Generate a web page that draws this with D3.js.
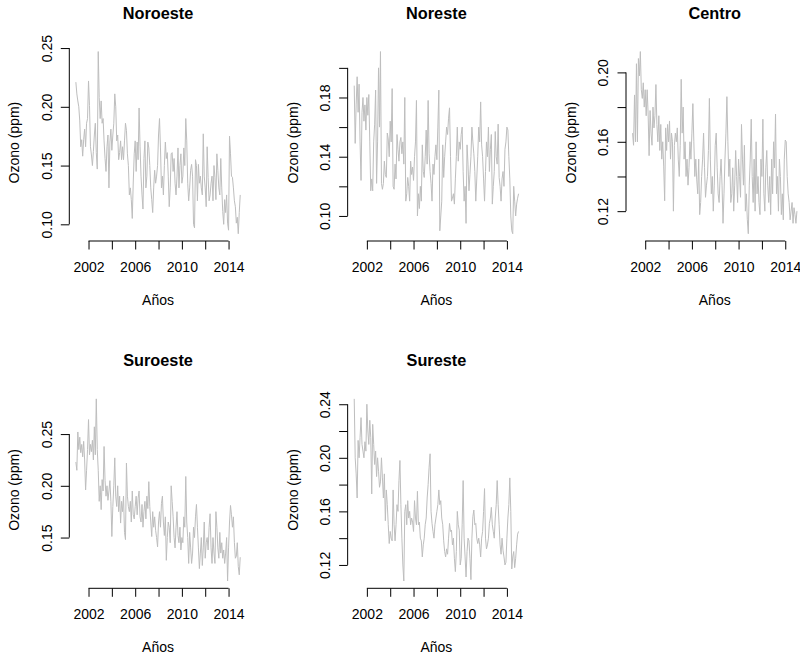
<!DOCTYPE html>
<html>
<head>
<meta charset="utf-8">
<script src="https://cdn.jsdelivr.net/npm/d3@7"></script>
<style>
  body { margin: 0; background: #ffffff; }
  svg text { font-family: "Liberation Sans", Arial, Helvetica, sans-serif; fill: #000; }
</style>
</head>
<body>
<svg id="chart" width="800" height="658"></svg>
<script>
// Monthly maximum ozone (ppm) by zone, December 2000 onwards
const regions = ["Noroeste", "Noreste", "Centro", "Suroeste", "Sureste"];
const startYear = 2000;
const startMonth = 12;

const noroeste = [
  0.221, 0.211, 0.205, 0.200, 0.188, 0.166, 0.172, 0.158, 0.172, 0.181,
  0.166, 0.186, 0.190, 0.222, 0.201, 0.166, 0.159, 0.150, 0.162, 0.176,
  0.186, 0.161, 0.147, 0.247, 0.208, 0.190, 0.205, 0.186, 0.190, 0.171,
  0.156, 0.145, 0.166, 0.176, 0.131, 0.170, 0.181, 0.163, 0.176, 0.186,
  0.211, 0.200, 0.171, 0.176, 0.155, 0.161, 0.171, 0.155, 0.166, 0.155,
  0.171, 0.186, 0.180, 0.160, 0.150, 0.125, 0.131, 0.121, 0.105, 0.136,
  0.160, 0.171, 0.145, 0.170, 0.155, 0.199, 0.166, 0.141, 0.125, 0.113,
  0.156, 0.171, 0.131, 0.141, 0.170, 0.165, 0.150, 0.131, 0.121, 0.110,
  0.131, 0.146, 0.135, 0.141, 0.150, 0.176, 0.190, 0.165, 0.131, 0.141,
  0.125, 0.150, 0.170, 0.156, 0.161, 0.141, 0.115, 0.131, 0.160, 0.161,
  0.145, 0.156, 0.135, 0.125, 0.141, 0.165, 0.131, 0.150, 0.160, 0.135,
  0.141, 0.165, 0.150, 0.190, 0.171, 0.135, 0.120, 0.131, 0.146, 0.151,
  0.141, 0.100, 0.097, 0.155, 0.150, 0.120, 0.151, 0.135, 0.141, 0.131,
  0.125, 0.177, 0.141, 0.131, 0.115, 0.166, 0.140, 0.120, 0.125, 0.135,
  0.141, 0.120, 0.150, 0.140, 0.121, 0.160, 0.146, 0.131, 0.125, 0.156,
  0.131, 0.111, 0.100, 0.121, 0.110, 0.125, 0.101, 0.095, 0.175, 0.160,
  0.141, 0.140, 0.131, 0.120, 0.115, 0.101, 0.106, 0.092, 0.110, 0.125
];

const noreste = [
  0.188, 0.149, 0.175, 0.194, 0.170, 0.189, 0.150, 0.124, 0.170, 0.180,
  0.164, 0.175, 0.158, 0.180, 0.168, 0.182, 0.150, 0.117, 0.125, 0.117,
  0.150, 0.162, 0.185, 0.122, 0.150, 0.200, 0.160, 0.211, 0.122, 0.118,
  0.122, 0.137, 0.128, 0.126, 0.156, 0.152, 0.140, 0.164, 0.150, 0.186,
  0.120, 0.118, 0.135, 0.125, 0.155, 0.145, 0.137, 0.150, 0.153, 0.142,
  0.150, 0.135, 0.180, 0.110, 0.115, 0.126, 0.120, 0.110, 0.137, 0.128,
  0.133, 0.124, 0.140, 0.150, 0.178, 0.100, 0.115, 0.105, 0.120, 0.110,
  0.148, 0.130, 0.126, 0.140, 0.158, 0.135, 0.178, 0.142, 0.130, 0.122,
  0.110, 0.135, 0.128, 0.140, 0.148, 0.138, 0.160, 0.185, 0.090, 0.100,
  0.110, 0.148, 0.126, 0.140, 0.150, 0.160, 0.155, 0.166, 0.173, 0.140,
  0.110, 0.112, 0.115, 0.108, 0.125, 0.140, 0.160, 0.137, 0.150, 0.145,
  0.155, 0.160, 0.130, 0.110, 0.120, 0.095, 0.148, 0.135, 0.117, 0.128,
  0.140, 0.160, 0.150, 0.142, 0.130, 0.110, 0.125, 0.140, 0.160, 0.150,
  0.177, 0.148, 0.140, 0.125, 0.110, 0.130, 0.150, 0.140, 0.160, 0.130,
  0.145, 0.155, 0.108, 0.120, 0.130, 0.157, 0.140, 0.135, 0.162, 0.126,
  0.120, 0.110, 0.125, 0.130, 0.120, 0.145, 0.150, 0.160, 0.158, 0.140,
  0.125, 0.100, 0.090, 0.088, 0.120, 0.110, 0.100, 0.108, 0.112, 0.115
];

const centro = [
  0.165, 0.158, 0.187, 0.160, 0.205, 0.160, 0.208, 0.198, 0.212, 0.190,
  0.185, 0.194, 0.180, 0.190, 0.175, 0.190, 0.176, 0.152, 0.178, 0.165,
  0.158, 0.180, 0.168, 0.175, 0.193, 0.170, 0.160, 0.175, 0.155, 0.170,
  0.150, 0.160, 0.146, 0.126, 0.168, 0.155, 0.170, 0.160, 0.172, 0.150,
  0.165, 0.160, 0.120, 0.158, 0.165, 0.160, 0.168, 0.150, 0.140, 0.158,
  0.196, 0.165, 0.180, 0.150, 0.160, 0.140, 0.150, 0.135, 0.145, 0.160,
  0.150, 0.165, 0.182, 0.160, 0.140, 0.150, 0.138, 0.130, 0.150, 0.118,
  0.125, 0.140, 0.150, 0.165, 0.145, 0.128, 0.135, 0.140, 0.155, 0.185,
  0.150, 0.130, 0.140, 0.120, 0.135, 0.158, 0.165, 0.145, 0.130, 0.125,
  0.140, 0.150, 0.135, 0.113, 0.130, 0.150, 0.165, 0.186, 0.160, 0.140,
  0.150, 0.125, 0.130, 0.145, 0.120, 0.135, 0.155, 0.140, 0.125, 0.150,
  0.140, 0.128, 0.170, 0.150, 0.135, 0.158, 0.120, 0.130, 0.115, 0.107,
  0.135, 0.150, 0.173, 0.140, 0.125, 0.150, 0.120, 0.160, 0.130, 0.140,
  0.125, 0.118, 0.150, 0.140, 0.173, 0.130, 0.120, 0.145, 0.155, 0.135,
  0.125, 0.140, 0.118, 0.150, 0.130, 0.160, 0.145, 0.176, 0.130, 0.140,
  0.120, 0.150, 0.140, 0.118, 0.130, 0.115, 0.150, 0.161, 0.160, 0.140,
  0.130, 0.125, 0.115, 0.120, 0.125, 0.113, 0.122, 0.118, 0.113, 0.120
];

const suroeste = [
  0.223, 0.215, 0.252, 0.235, 0.247, 0.232, 0.240, 0.228, 0.243, 0.225,
  0.196, 0.215, 0.235, 0.264, 0.230, 0.240, 0.233, 0.244, 0.225, 0.257,
  0.230, 0.284, 0.235, 0.215, 0.185, 0.200, 0.177, 0.206, 0.195, 0.238,
  0.205, 0.190, 0.200, 0.186, 0.195, 0.205, 0.185, 0.151, 0.180, 0.200,
  0.227, 0.190, 0.180, 0.200, 0.175, 0.190, 0.164, 0.185, 0.175, 0.190,
  0.155, 0.148, 0.222, 0.190, 0.180, 0.175, 0.185, 0.165, 0.195, 0.172,
  0.168, 0.180, 0.190, 0.172, 0.188, 0.195, 0.170, 0.165, 0.182, 0.160,
  0.175, 0.185, 0.168, 0.190, 0.178, 0.204, 0.180, 0.165, 0.151, 0.175,
  0.160, 0.170, 0.157, 0.150, 0.141, 0.165, 0.175, 0.160, 0.183, 0.190,
  0.165, 0.152, 0.170, 0.128, 0.150, 0.165, 0.160, 0.145, 0.200, 0.185,
  0.170, 0.150, 0.140, 0.160, 0.175, 0.152, 0.145, 0.160, 0.138, 0.150,
  0.145, 0.170, 0.160, 0.209, 0.165, 0.150, 0.125, 0.155, 0.140, 0.125,
  0.135, 0.160, 0.150, 0.170, 0.182, 0.160, 0.140, 0.120, 0.135, 0.150,
  0.123, 0.140, 0.165, 0.130, 0.145, 0.150, 0.138, 0.160, 0.173, 0.140,
  0.125, 0.150, 0.135, 0.125, 0.175, 0.160, 0.140, 0.130, 0.155, 0.135,
  0.145, 0.130, 0.138, 0.125, 0.135, 0.150, 0.108, 0.140, 0.165, 0.181,
  0.172, 0.160, 0.170, 0.145, 0.130, 0.132, 0.145, 0.122, 0.114, 0.131
];

const sureste = [
  0.244, 0.200, 0.188, 0.170, 0.213, 0.200, 0.215, 0.230, 0.210, 0.205,
  0.200, 0.212, 0.205, 0.240, 0.220, 0.210, 0.228, 0.215, 0.173, 0.225,
  0.210, 0.195, 0.205, 0.186, 0.200, 0.190, 0.178, 0.182, 0.200, 0.185,
  0.170, 0.188, 0.153, 0.176, 0.165, 0.150, 0.136, 0.145, 0.140, 0.138,
  0.176, 0.150, 0.138, 0.150, 0.165, 0.160, 0.183, 0.198, 0.165, 0.140,
  0.120, 0.108, 0.160, 0.165, 0.150, 0.168, 0.155, 0.160, 0.150, 0.155,
  0.152, 0.145, 0.168, 0.155, 0.150, 0.175, 0.150, 0.152, 0.140, 0.138,
  0.126, 0.135, 0.140, 0.150, 0.155, 0.170, 0.180, 0.193, 0.203, 0.160,
  0.151, 0.145, 0.140, 0.150, 0.155, 0.160, 0.165, 0.176, 0.165, 0.168,
  0.155, 0.150, 0.138, 0.130, 0.126, 0.132, 0.128, 0.140, 0.151, 0.145,
  0.146, 0.135, 0.140, 0.125, 0.115, 0.130, 0.160, 0.150, 0.146, 0.120,
  0.125, 0.150, 0.183, 0.140, 0.126, 0.111, 0.130, 0.140, 0.138, 0.125,
  0.109, 0.140, 0.156, 0.161, 0.150, 0.151, 0.140, 0.136, 0.140, 0.135,
  0.126, 0.140, 0.145, 0.160, 0.177, 0.140, 0.132, 0.135, 0.140, 0.151,
  0.155, 0.163, 0.150, 0.145, 0.140, 0.155, 0.165, 0.183, 0.165, 0.150,
  0.135, 0.128, 0.140, 0.131, 0.126, 0.120, 0.122, 0.140, 0.155, 0.165,
  0.185, 0.160, 0.117, 0.126, 0.130, 0.118, 0.125, 0.135, 0.143, 0.145
];

const seriesValues = [noroeste, noreste, centro, suroeste, sureste];

// Axis ticks; empty labels are ticks whose label is left out for lack of room
const xTickValues = [2002, 2004, 2006, 2008, 2010, 2012, 2014];
const xTickLabels = ["2002", "", "2006", "", "2010", "", "2014"];

const yTickValues = [
  [0.10, 0.15, 0.20, 0.25],
  [0.10, 0.12, 0.14, 0.16, 0.18, 0.20],
  [0.12, 0.14, 0.16, 0.18, 0.20],
  [0.15, 0.20, 0.25],
  [0.12, 0.14, 0.16, 0.18, 0.20, 0.22, 0.24]
];
const yTickLabels = [
  ["0.10", "0.15", "0.20", "0.25"],
  ["0.10", "", "0.14", "", "0.18", ""],
  ["0.12", "", "0.16", "", "0.20"],
  ["0.15", "0.20", "0.25"],
  ["0.12", "", "0.16", "", "0.20", "", "0.24"]
];

const xTitle = "Años";
const yTitle = "Ozono (ppm)";

// ---- layout (2 x 3 grid of panels) ----
const colStep = 278.35, rowStep = 347.3;
const plot = { left: 69.3, right: 246.8, top: 44.3, bottom: 241 };
const tickLen = 8.5;
const lineColor = "#bebebe";

const svg = d3.select("#chart");

function monthTime(i) {
  return startYear + (startMonth - 1) / 12 + i / 12;
}

// R-style extended range: 4% padding on both sides
function padded(extent) {
  const d = (extent[1] - extent[0]) * 0.04;
  return [extent[0] - d, extent[1] + d];
}

regions.forEach((name, p) => {
  const col = p % 3, row = Math.floor(p / 3);
  const g = svg.append("g")
    .attr("transform", `translate(${col * colStep},${row * rowStep})`);

  const values = seriesValues[p];
  const points = values.map((v, i) => ({ t: monthTime(i), v }));

  const x = d3.scaleLinear()
    .domain(padded(d3.extent(points, d => d.t)))
    .range([plot.left, plot.right]);
  const y = d3.scaleLinear()
    .domain(padded(d3.extent(points, d => d.v)))
    .range([plot.bottom, plot.top]);

  // series line
  g.append("path")
    .datum(points)
    .attr("fill", "none")
    .attr("stroke", lineColor)
    .attr("stroke-width", 1)
    .attr("d", d3.line().x(d => x(d.t)).y(d => y(d.v)));

  // x axis
  const xAxis = d3.axisBottom(x)
    .tickValues(xTickValues)
    .tickFormat((d, i) => xTickLabels[i])
    .tickSize(tickLen)
    .tickSizeOuter(0);
  const gx = g.append("g")
    .attr("transform", `translate(0,${plot.bottom})`)
    .call(xAxis);
  gx.select(".domain").remove();
  gx.append("line")
    .attr("x1", x(xTickValues[0]))
    .attr("x2", x(xTickValues[xTickValues.length - 1]))
    .attr("stroke", "#000");
  gx.selectAll(".tick line").attr("stroke", "#000");
  gx.selectAll(".tick text")
    .attr("y", 30.7)
    .attr("dy", null)
    .attr("fill", "#000")
    .style("font-size", "14px")
    .style("font-family", "'Liberation Sans', Arial, sans-serif");

  // y axis
  const yv = yTickValues[p];
  const yAxis = d3.axisLeft(y)
    .tickValues(yv)
    .tickFormat((d, i) => yTickLabels[p][i])
    .tickSize(tickLen)
    .tickSizeOuter(0);
  const gy = g.append("g")
    .attr("transform", `translate(${plot.left},0)`)
    .call(yAxis);
  gy.select(".domain").remove();
  gy.append("line")
    .attr("y1", y(yv[0]))
    .attr("y2", y(yv[yv.length - 1]))
    .attr("stroke", "#000");
  gy.selectAll(".tick line").attr("stroke", "#000");
  gy.selectAll(".tick text")
    .attr("transform", "rotate(-90)")
    .attr("x", 0)
    .attr("y", -17.6)
    .attr("dy", null)
    .attr("text-anchor", "middle")
    .attr("fill", "#000")
    .style("font-size", "14px")
    .style("font-family", "'Liberation Sans', Arial, sans-serif");

  const cx = (plot.left + plot.right) / 2;
  const cy = (plot.top + plot.bottom) / 2;

  // panel title
  g.append("text")
    .attr("x", cx)
    .attr("y", 18.6)
    .attr("text-anchor", "middle")
    .style("font-size", "16.3px")
    .style("font-weight", "bold")
    .text(name);

  // axis titles
  g.append("text")
    .attr("x", cx)
    .attr("y", 304.8)
    .attr("text-anchor", "middle")
    .style("font-size", "14px")
    .text(xTitle);

  g.append("text")
    .attr("transform", `translate(19.2,${cy}) rotate(-90)`)
    .attr("text-anchor", "middle")
    .style("font-size", "14px")
    .text(yTitle);
});
</script>
</body>
</html>
